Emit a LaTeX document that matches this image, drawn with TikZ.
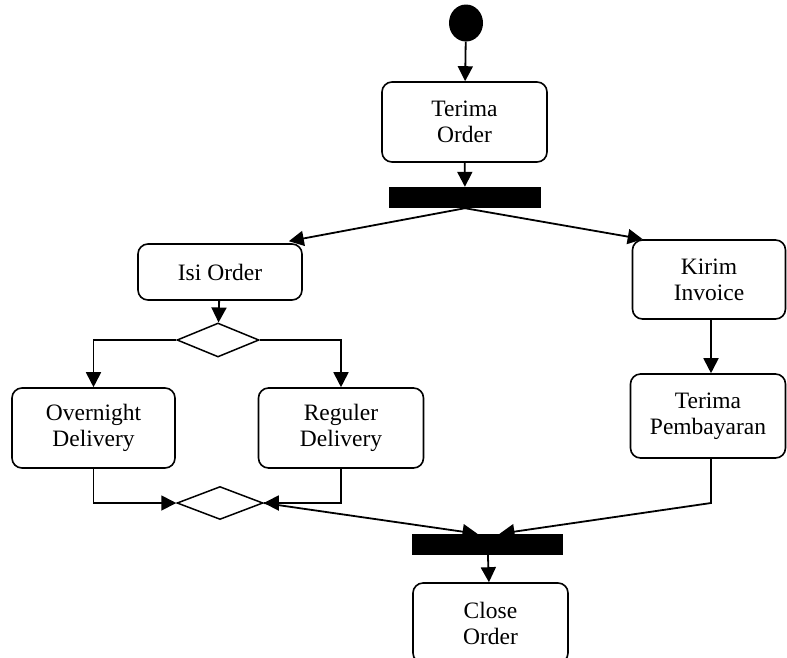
\documentclass[tikz,border=0pt]{standalone}
\usepackage{fontspec}
\setmainfont{Liberation Serif}
\usetikzlibrary{positioning,shapes.geometric,arrows.meta}

\begin{document}
\begin{tikzpicture}[
        x=1pt, y=-1pt,
        act/.style={draw, line width=1.6pt, rounded corners=10pt, inner sep=0pt, align=center,
            font=\fontsize{23.5}{26}\selectfont},
        bar/.style={fill=black, inner sep=0pt, minimum height=21pt},
        choice/.style={draw, diamond, line width=1.5pt, inner sep=0pt},
        flow/.style={-{Triangle[length=15pt,width=15pt]}, line width=1.8pt}
    ]
        \useasboundingbox (0,0) rectangle (787,657);
        \node[fill=black, ellipse, minimum width=34pt, minimum height=37pt, inner sep=0pt] (start) at (466,23) {};
        \node[act, minimum width=165pt, minimum height=80pt] (terima) at (464.5,122) {Terima\\Order};
        \node[bar, minimum width=152pt] (fork) at (465,197.5) {};
        \node[act, minimum width=164pt, minimum height=56pt] (isi) at (220,272) {Isi Order};
        \node[act, minimum width=153pt, minimum height=79pt] (kirim) at (709,279.5) {Kirim\\Invoice};
        \node[choice, minimum width=82pt, minimum height=34pt] (dec) at (218,340) {};
        \node[act, minimum width=163pt, minimum height=80pt] (ovn) at (93.5,428) {Overnight\\Delivery};
        \node[act, minimum width=165pt, minimum height=80pt] (reg) at (341,428) {Reguler\\Delivery};
        \node[act, minimum width=155pt, minimum height=84pt] (pay) at (708,416) {Terima\\Pembayaran};
        \node[choice, minimum width=86pt, minimum height=33pt] (mrg) at (220,503) {};
        \node[bar, minimum width=151pt] (join) at (487.5,544.5) {};
        \node[act, minimum width=155pt, minimum height=80pt] (close) at (490.5,623) {Close\\Order};
        \coordinate (bend) at (711,503);

        \draw[flow] (start) -- (terima);
        \draw[flow] (terima) -- (fork);
        \draw[flow] (fork.south) -- ([xshift=-14pt,yshift=2pt]isi.north east);
        \draw[flow] (fork.south) -- ([xshift=11pt]kirim.north west);
        \draw[flow] (isi) -- (dec);
        \draw[flow] (dec.west) -| (ovn.north);
        \draw[flow] (dec.east) -| (reg.north);
        \draw[flow] (ovn.south) |- (mrg.west);
        \draw[flow] (reg.south) |- (mrg.east);
        \draw[flow] (mrg.east) -- ([xshift=-10pt]join.north);
        \draw[flow] (bend |- pay.south) -- (bend) -- ([xshift=12pt]join.north);
        \draw[flow] (kirim.south -| bend) -- (bend |- pay.north);
        \draw[flow] (join) -- (close);
    \end{tikzpicture}
\end{document}
